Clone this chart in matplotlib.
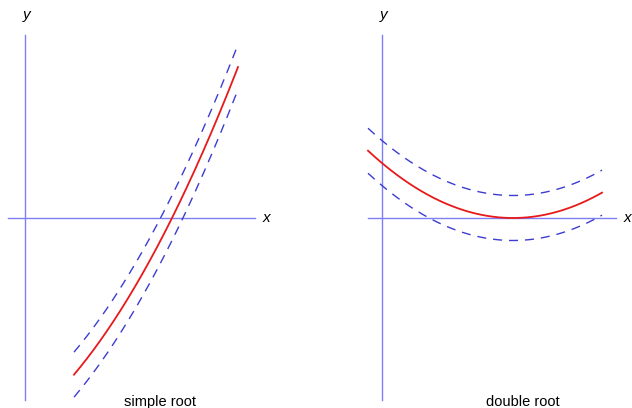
import matplotlib
matplotlib.use("Agg")
import matplotlib.pyplot as plt
import numpy as np

# Units: 1 = 100 px of the 632x408 canvas, origin at the axis crossing.
# simple root: y = slope*(x - root) + curv*(x - root)^2
simple_root = 1.47
simple_slope = 2.01
simple_curv = 0.42
simple_xrange = (0.49, 2.13)

# double root: y = curv*(x - root)^2
double_root = 1.31
double_curv = 0.32
double_xrange = (-0.14, 2.20)

band = 0.225                      # vertical offset of the dashed error band
captions = ["simple root", "double root"]

AXIS_C = "#7f7ff5"
BAND_C = "#3c3cd2"
CURVE_C = "#e8191b"

W, H = 632, 408
fig = plt.figure(figsize=(W / 100, H / 100), dpi=100)


def panel(left_px, origin_px, xaxis_span, curve, xr, caption, cap_x):
    ax = fig.add_axes([left_px / W, 0, 316 / W, 1])
    x0 = (left_px - origin_px) / 100
    ax.set_xlim(x0, x0 + 3.16)
    ax.set_ylim(-1.90, 2.18)
    ax.axis("off")
    # coordinate axes
    ax.plot(xaxis_span, [0, 0], color=AXIS_C, lw=1.0)
    ax.plot([0, 0], [-1.82, 1.83], color=AXIS_C, lw=1.0)
    ax.text(xaxis_span[1] + 0.11, 0, "x", style="italic", fontsize=11,
            ha="center", va="center", family="Liberation Sans")
    ax.text(0.02, 2.03, "y", style="italic", fontsize=11,
            ha="center", va="center", family="Liberation Sans")
    xs = np.linspace(xr[0], xr[1], 200)
    ys = curve(xs)
    for s in (band, -band):
        ax.plot(xs, ys + s, color=BAND_C, lw=1.0, dashes=(6.5, 5))
    ax.plot(xs, ys, color=CURVE_C, lw=1.3)
    ax.text(cap_x, -1.84, caption, fontsize=10.5, ha="center", va="center",
            family="Liberation Sans")
    return ax


panel(0, 25, (-0.17, 2.30),
      lambda x: simple_slope * (x - simple_root) + simple_curv * (x - simple_root) ** 2,
      simple_xrange, captions[0], 1.35)
panel(316, 382, (-0.14, 2.34),
      lambda x: double_curv * (x - double_root) ** 2,
      double_xrange, captions[1], 1.41)

fig.savefig("out.png", dpi=100)
